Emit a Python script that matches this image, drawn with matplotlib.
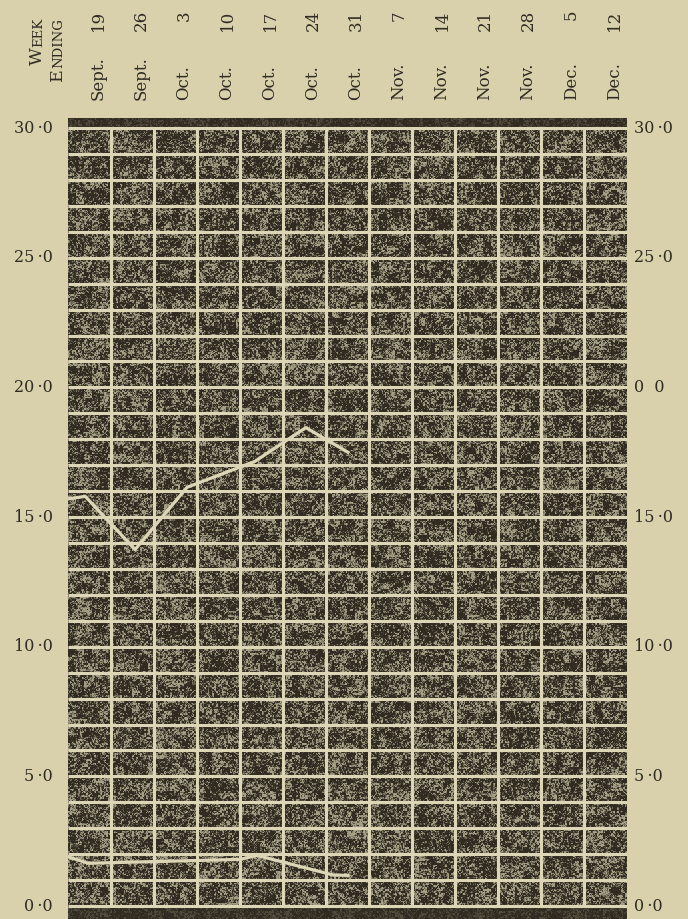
import numpy as np
import matplotlib
matplotlib.use("Agg")
import matplotlib.pyplot as plt
from matplotlib.transforms import blended_transform_factory

# ---- data -------------------------------------------------------------
months = ["Sept.", "Sept.", "Oct.", "Oct.", "Oct.", "Oct.", "Oct.",
          "Nov.", "Nov.", "Nov.", "Nov.", "Dec.", "Dec."]
days = ["19", "26", "3", "10", "17", "24", "31",
        "7", "14", "21", "28", "5", "12"]

left_ticks = [0, 5, 10, 15, 20, 25, 30]
left_labels = ["0\u2009·0", "5\u2009·0", "10\u2009·0", "15\u2009·0",
               "20\u2009·0", "25\u2009·0", "30\u2009·0"]
right_labels = ["0\u2009·0", "5\u2009·0", "10\u2009·0", "15\u2009·0",
                "0  0", "25\u2009·0", "30\u2009·0"]

# weekly curves (x in week columns, y in chart units)
upper_x = [0.0, 0.40, 1.56, 2.77, 4.35, 5.53, 6.51]
upper_y = [15.7, 15.8, 13.75, 16.15, 17.15, 18.45, 17.5]
lower_x = [0.0, 0.47, 4.0, 4.4, 6.16, 6.51]
lower_y = [1.9, 1.65, 1.8, 1.95, 1.2, 1.18]

# ---- style ------------------------------------------------------------
PAPER = "#d8d1ab"
INK = "#302b24"
RULE = "#ddd6b6"
SERIF = ["DejaVu Serif"]

W, H = 688, 919
fig = plt.figure(figsize=(W / 100, H / 100), dpi=100)
fig.patch.set_facecolor(PAPER)

ax = fig.add_axes([68 / W, 0, 559 / W, 801 / H])
ax.set_xlim(0, 13)
ax.set_ylim(-0.5, 30.39)
ax.axis("off")

# grainy printed background
rng = np.random.default_rng(11)
rows, cols = 800, 560
fine = rng.random((rows, cols))
mid = np.kron(rng.random((rows // 2, cols // 2)), np.ones((2, 2)))
coarse = np.kron(rng.random((rows // 8, cols // 8)), np.ones((8, 8)))
t = 0.35 * fine + 0.4 * mid + 0.25 * coarse
f = np.clip((t - 0.44) / 0.28, 0, 1)
yrow = np.linspace(30.39, -0.5, rows)
band = (yrow > 30.05) | (yrow < -0.05)
f[band] *= 0.3
dark = np.array([48, 42, 32]) / 255
light = np.array([165, 160, 134]) / 255
tex = dark + (light - dark) * f[..., None]
ax.imshow(tex, extent=(0, 13, -0.5, 30.39), aspect="auto",
          interpolation="nearest", zorder=0)

# ruling
ax.hlines(np.arange(0, 31), 0, 13, colors=RULE, linewidth=2.2, zorder=1)
ax.vlines(np.arange(1, 13), 0, 30, colors=RULE, linewidth=2.2, zorder=1)

# curves
ax.plot(upper_x, upper_y, color=RULE, linewidth=2.3, solid_joinstyle="miter", zorder=2)
ax.plot(lower_x, lower_y, color=RULE, linewidth=2.3, solid_joinstyle="miter", zorder=2)

# value labels on both sides
for v, lt, rt in zip(left_ticks, left_labels, right_labels):
    ax.text(-0.35, v, lt, ha="right", va="center", fontsize=11.5,
            family=SERIF, color=INK)
    ax.text(13.16, v, rt, ha="left", va="center", fontsize=11.5,
            family=SERIF, color=INK)

# week-ending dates along the top
tr = blended_transform_factory(ax.transData, fig.transFigure)
for i, (m, d) in enumerate(zip(months, days)):
    xc = i + 0.5 + 0.2
    fig.text(xc, 1 - 100 / H, m, transform=tr, rotation=90, ha="center",
             va="bottom", fontsize=12, family=SERIF, color=INK)
    fig.text(xc, 1 - 10 / H, d, transform=tr, rotation=90, ha="center",
             va="top", fontsize=12, family=SERIF, color=INK)

# "Week Ending" heading in small capitals
fig.canvas.draw()
renderer = fig.canvas.get_renderer()


def small_caps(x_px, top_px, word, big=12.5, small=9.5):
    tail = fig.text(x_px / W, 1 - top_px / H, word[1:].upper(), rotation=90,
                    rotation_mode="anchor", ha="right", va="baseline",
                    fontsize=small, family=SERIF, color=INK)
    length = tail.get_window_extent(renderer).height
    fig.text(x_px / W, 1 - (top_px + length) / H, word[0].upper(), rotation=90,
             rotation_mode="anchor", ha="right", va="baseline",
             fontsize=big, family=SERIF, color=INK)


small_caps(42, 18, "Week")
small_caps(62, 18, "Ending")

fig.savefig("out.png", dpi=100, facecolor=PAPER)
